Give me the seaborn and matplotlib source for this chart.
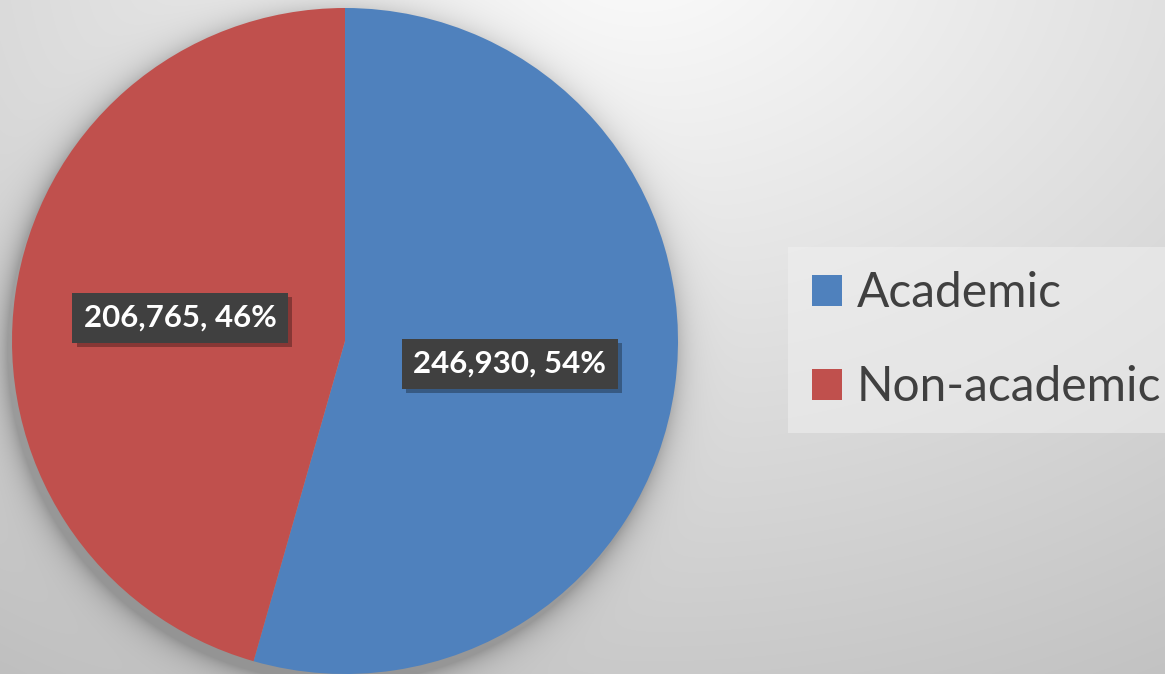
import numpy as np
import matplotlib
matplotlib.use('Agg')
import matplotlib.pyplot as plt
import matplotlib.patheffects as pe
import seaborn as sns

# data
categories = ['Academic', 'Non-academic']
counts = [246930, 206765]
percents = [54, 46]
colors = ['#4f81bd', '#c0504d']

sns.set_theme(style='white')
plt.rcParams['font.family'] = ['Lato', 'DejaVu Sans']

W, H = 1165, 674
fig = plt.figure(figsize=(W / 100, H / 100), dpi=100)

# pie geometry (pixels)
cx, cy, r = 345, 341, 333

# background gradient + soft pie shadow
bg = fig.add_axes([0, 0, 1, 1])
yy, xx = np.mgrid[0:H, 0:W]
d = np.sqrt(((xx - 640) / 1.0) ** 2 + ((yy + 60) / 0.75) ** 2)
val = np.clip(252 - 0.052 * d, 190, 252) / 255.0
dc = np.sqrt((xx - cx + 5) ** 2 + (yy - cy - 8) ** 2) - r
shadow = np.where(dc > 0, 0.25 * np.exp(-dc / 13.0), 0.25)
val = val * (1 - shadow)
bg.imshow(np.dstack([val, val, val]), extent=(0, W, H, 0), aspect='auto', interpolation='bilinear')
bg.set_axis_off()

ax = fig.add_axes([(cx - r) / W, (H - cy - r) / H, 2 * r / W, 2 * r / H])
wedges, texts, autotexts = ax.pie(
    counts, colors=colors, startangle=90, counterclock=False, radius=1.0,
    autopct=lambda p: '', pctdistance=0.5,
    wedgeprops=dict(linewidth=0))
for t, c, p in zip(autotexts, counts, percents):
    t.set_text(f'{c:,}, {p}%')
    t.set_color('white')
    t.set_fontsize(22.5)
    t.set_fontweight('bold')
    t.set_bbox(dict(boxstyle='square,pad=0.36', facecolor='#404040', edgecolor='none'))
    t.get_bbox_patch().set_path_effects([
        pe.SimplePatchShadow(offset=(3, -3), shadow_rgbFace='black', alpha=0.3), pe.Normal()])
ax.set_xlim(-1, 1)
ax.set_ylim(-1, 1)
ax.set_axis_off()

leg = fig.legend(wedges, categories, loc='upper left',
                 bbox_to_anchor=(788 / W, 1 - 247 / H), borderaxespad=0,
                 fontsize=34.5, handlelength=0.62, handleheight=0.62,
                 handletextpad=0.32, labelspacing=1.05, borderpad=0.5,
                 frameon=True, fancybox=False, labelcolor='#404040')
frame = leg.get_frame()
frame.set_facecolor('#f0f0f0')
frame.set_alpha(0.55)
frame.set_edgecolor('none')
for h in leg.legend_handles:
    h.set_edgecolor('none')

fig.savefig('out.png', dpi=100)
